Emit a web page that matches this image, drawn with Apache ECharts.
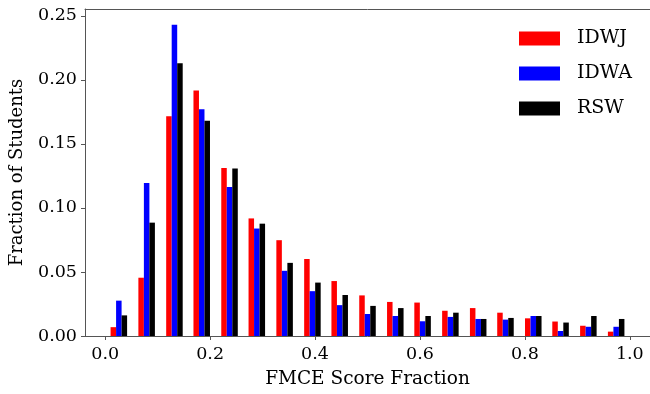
<!DOCTYPE html>
<html>
<head>
<meta charset="utf-8">
<script src="https://cdn.jsdelivr.net/npm/echarts@6/dist/echarts.min.js"></script>
<style>html,body{margin:0;padding:0;background:#fff;overflow:hidden}#c{width:650px;height:394px}</style>
</head>
<body>
<div id="c"></div>
<script>
// Bin centres (19 bins of the FMCE score fraction)
var binCenters = [0.026, 0.079, 0.132, 0.184, 0.237, 0.289, 0.342, 0.395, 0.447, 0.500,
                  0.553, 0.605, 0.658, 0.711, 0.763, 0.816, 0.868, 0.921, 0.974];
var seriesNames = ['IDWJ', 'IDWA', 'RSW'];
var idwj = [0.0069, 0.0455, 0.1715, 0.1917, 0.1311, 0.0918, 0.0748, 0.0601, 0.0429, 0.0317,
            0.0266, 0.0261, 0.0197, 0.0218, 0.0182, 0.0138, 0.0113, 0.0080, 0.0034];
var idwa = [0.0276, 0.1194, 0.2431, 0.1771, 0.1163, 0.0839, 0.0509, 0.0350, 0.0241, 0.0172,
            0.0156, 0.0115, 0.0149, 0.0133, 0.0128, 0.0156, 0.0039, 0.0072, 0.0072];
var rsw  = [0.0161, 0.0885, 0.2130, 0.1680, 0.1307, 0.0877, 0.0571, 0.0417, 0.0320, 0.0235,
            0.0218, 0.0156, 0.0182, 0.0133, 0.0141, 0.0156, 0.0105, 0.0156, 0.0133];
var xTickValues = [0.0, 0.2, 0.4, 0.6, 0.8, 1.0];
var yTickValues = [0.00, 0.05, 0.10, 0.15, 0.20, 0.25];

var FONT = 'DejaVu Serif';
var colors = ['#ff0000', '#0000ff', '#000000'];
var barW = 0.0105;
var offsets = [-barW, 0, barW];
var allValues = [idwj, idwa, rsw];
var X_MIN = -0.0385, X_MAX = 1.0385;

function makeSeries(i) {
  var vals = allValues[i];
  var data = binCenters.map(function (c, k) { return [c + offsets[i], vals[k]]; });
  return {
    name: seriesNames[i],
    type: 'custom',
    xAxisIndex: 0,
    itemStyle: { color: colors[i] },
    data: data,
    encode: { x: 0, y: 1 },
    renderItem: function (params, api) {
      var x = api.value(0), y = api.value(1);
      var p0 = api.coord([x - barW / 2, y]);
      var p1 = api.coord([x + barW / 2, 0]);
      return {
        type: 'rect',
        shape: { x: p0[0], y: p0[1], width: p1[0] - p0[0], height: p1[1] - p0[1] },
        style: { fill: colors[i] }
      };
    }
  };
}

var chart = echarts.init(document.getElementById('c'), null, { renderer: 'canvas' });
chart.setOption({
  animation: false,
  backgroundColor: '#ffffff',
  grid: { left: 85, right: -1, top: 9, bottom: 52, containLabel: false, show: false },
  legend: {
    orient: 'vertical', left: 519, top: 29, padding: 0,
    itemWidth: 41, itemHeight: 14, itemGap: 16,
    icon: 'rect',
    data: seriesNames,
    textStyle: { fontFamily: FONT, fontSize: 19, color: '#000', padding: [0, 0, 0, 12] }
  },
  xAxis: [{
    type: 'value', min: X_MIN, max: X_MAX,
    name: 'FMCE Score Fraction', nameLocation: 'middle', nameGap: 34,
    nameTextStyle: { fontFamily: FONT, fontSize: 18.5, color: '#000' },
    axisLine: { show: true, onZero: false, lineStyle: { color: '#555', width: 1 } },
    axisTick: { show: true, length: 4, customValues: xTickValues, lineStyle: { color: '#555' } },
    axisLabel: { customValues: xTickValues, margin: 9, fontFamily: FONT, fontSize: 17.5, color: '#000',
                 formatter: function (v) { return v.toFixed(1); } },
    splitLine: { show: false }
  }, {
    type: 'value', min: X_MIN, max: X_MAX, position: 'top',
    axisLine: { show: true, onZero: false, lineStyle: { color: '#555', width: 1 } },
    axisTick: { show: false }, axisLabel: { show: false }, splitLine: { show: false }
  }],
  yAxis: {
    type: 'value', min: 0, max: 0.2553, position: 'left',
    name: 'Fraction of Students', nameLocation: 'middle', nameGap: 59,
    nameTextStyle: { fontFamily: FONT, fontSize: 18, color: '#000' },
    axisLine: { show: true, onZero: false, lineStyle: { color: '#555', width: 1 } },
    axisTick: { show: true, length: 4, customValues: yTickValues, lineStyle: { color: '#555' } },
    axisLabel: { customValues: yTickValues, margin: 8, fontFamily: FONT, fontSize: 17.5, color: '#000',
                 formatter: function (v) { return v.toFixed(2); } },
    splitLine: { show: false }
  },
  series: [makeSeries(0), makeSeries(1), makeSeries(2)]
});
</script>
</body>
</html>
